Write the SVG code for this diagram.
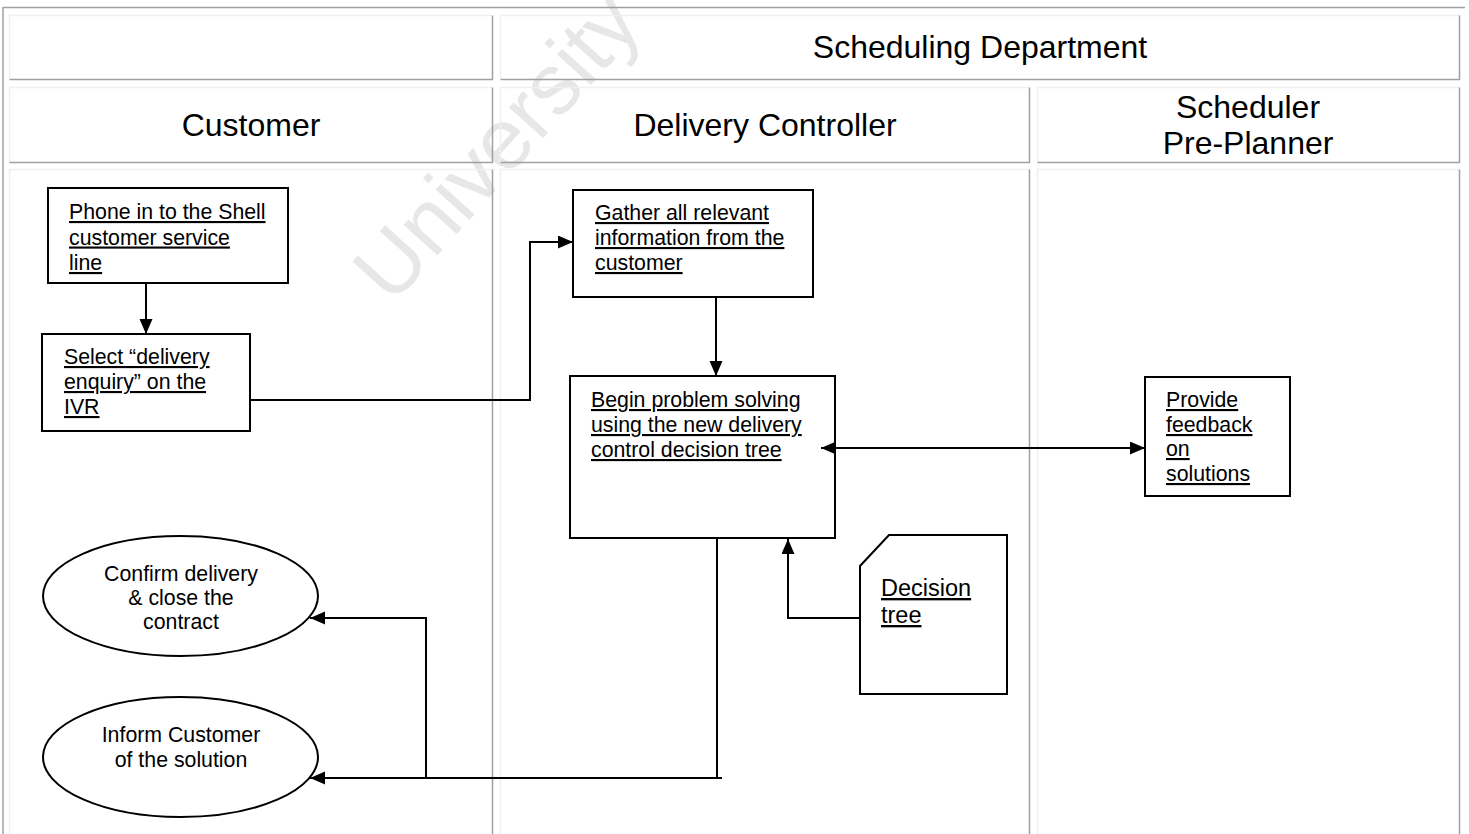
<svg xmlns="http://www.w3.org/2000/svg" width="1469" height="834" viewBox="0 0 1469 834">
  <style>
    .bg { fill: #ffffff; }
    .wm { font-family: "Liberation Sans", Arial, sans-serif; font-size: 86px; fill: #e7e7e7; }
    .outer { stroke: #a0a0a0; stroke-width: 1.5; fill: none; }
    .lite { stroke: #f0f0f0; stroke-width: 1.5; fill: none; }
    .dark { stroke: #a0a0a0; stroke-width: 1.5; fill: none; }
    .head { font-family: "Liberation Sans", Arial, sans-serif; font-size: 32px; fill: #000; text-anchor: middle; }
    .box { fill: #ffffff; stroke: #000; stroke-width: 2; }
    .lbl { font-family: "Liberation Sans", Arial, sans-serif; font-size: 21.3px; fill: #000; text-decoration: underline; }
    .lbl-c { font-family: "Liberation Sans", Arial, sans-serif; font-size: 21.3px; fill: #000; text-anchor: middle; }
    .lbl-big { font-family: "Liberation Sans", Arial, sans-serif; font-size: 23.5px; fill: #000; text-decoration: underline; }
    .wire { fill: none; stroke: #000; stroke-width: 2; }
  </style>
  <defs>
    <marker id="tip" markerUnits="userSpaceOnUse" markerWidth="16" markerHeight="14" refX="15" refY="6.5" orient="auto-start-reverse">
      <path d="M0,0 L15,6.5 L0,13 z" fill="#000"/>
    </marker>
  </defs>

  <rect class="bg" x="0" y="0" width="1469" height="834"/>

  <!-- faint background watermark -->
  <text class="wm" transform="translate(392,306) rotate(-48)">University of</text>

  <!-- swimlane table -->
  <g id="lanes">
    <line class="outer" x1="3" y1="7.5" x2="1465" y2="7.5"/>
    <line class="outer" x1="3" y1="7" x2="3" y2="834"/>

    <!-- row 1 -->
    <path class="lite" d="M9.5,79 V15.5 H492.5"/>
    <path class="dark" d="M9.5,79.5 H492.5 V15.5"/>
    <path class="lite" d="M500.5,79 V15.5 H1459.5"/>
    <path class="dark" d="M500.5,79.5 H1459.5 V15.5"/>

    <!-- row 2 -->
    <path class="lite" d="M9.5,162 V87.5 H492.5"/>
    <path class="dark" d="M9.5,162.5 H492.5 V87.5"/>
    <path class="lite" d="M500.5,162 V87.5 H1029"/>
    <path class="dark" d="M500.5,162.5 H1029.5 V87.5"/>
    <path class="lite" d="M1037.5,162 V87.5 H1459.5"/>
    <path class="dark" d="M1037.5,162.5 H1459.5 V87.5"/>

    <!-- row 3 (lanes body) -->
    <path class="lite" d="M9.5,834 V169.5 H492.5"/>
    <path class="dark" d="M492.5,169.5 V834"/>
    <path class="lite" d="M500.5,834 V169.5 H1029"/>
    <path class="dark" d="M1029.5,169.5 V834"/>
    <path class="lite" d="M1037.5,834 V169.5 H1459.5"/>
    <path class="dark" d="M1459.5,169.5 V834"/>

    <text class="head" x="980" y="58">Scheduling Department</text>
    <text class="head" x="251" y="136">Customer</text>
    <text class="head" x="765" y="136">Delivery Controller</text>
    <text class="head" x="1248" y="118">Scheduler</text>
    <text class="head" x="1248" y="154">Pre-Planner</text>
  </g>

  <g id="phone-in">
    <rect class="box" x="48" y="188" width="240" height="95"/>
    <text class="lbl" x="69" y="219">Phone in to the Shell</text>
    <text class="lbl" x="69" y="244.5">customer service</text>
    <text class="lbl" x="69" y="270">line</text>
  </g>

  <g id="select-ivr">
    <rect class="box" x="42" y="334" width="208" height="97"/>
    <text class="lbl" x="64" y="364">Select “delivery</text>
    <text class="lbl" x="64" y="389">enquiry” on the</text>
    <text class="lbl" x="64" y="414">IVR</text>
  </g>

  <g id="gather-info">
    <rect class="box" x="573" y="190" width="240" height="107"/>
    <text class="lbl" x="595" y="220">Gather all relevant</text>
    <text class="lbl" x="595" y="245">information from the</text>
    <text class="lbl" x="595" y="270">customer</text>
  </g>

  <g id="problem-solving">
    <rect class="box" x="570" y="376" width="265" height="162"/>
    <text class="lbl" x="591" y="407">Begin problem solving</text>
    <text class="lbl" x="591" y="432">using the new delivery</text>
    <text class="lbl" x="591" y="457">control decision tree</text>
  </g>

  <g id="feedback">
    <rect class="box" x="1145" y="377" width="145" height="119"/>
    <text class="lbl" x="1166" y="407">Provide</text>
    <text class="lbl" x="1166" y="432">feedback</text>
    <text class="lbl" x="1166" y="456">on</text>
    <text class="lbl" x="1166" y="481">solutions</text>
  </g>

  <g id="decision-tree">
    <path class="box" d="M889,535 H1007 V694 H860 V566 Z"/>
    <text class="lbl-big" x="881" y="596">Decision</text>
    <text class="lbl-big" x="881" y="623">tree</text>
  </g>

  <g id="confirm-delivery">
    <ellipse class="box" cx="180.5" cy="596" rx="137.5" ry="60"/>
    <text class="lbl-c" x="181" y="581">Confirm delivery</text>
    <text class="lbl-c" x="181" y="605">&amp; close the</text>
    <text class="lbl-c" x="181" y="629">contract</text>
  </g>

  <g id="inform-customer">
    <ellipse class="box" cx="180.5" cy="757" rx="137.5" ry="60"/>
    <text class="lbl-c" x="181" y="742">Inform Customer</text>
    <text class="lbl-c" x="181" y="767">of the solution</text>
  </g>

  <!-- connectors, drawn last so the two-way arrow shows inside its box -->
  <g id="connectors">
    <path class="wire" d="M146,283 V334" marker-end="url(#tip)"/>
    <path class="wire" d="M250,400 H530 V242 H573" marker-end="url(#tip)"/>
    <path class="wire" d="M716,297 V376" marker-end="url(#tip)"/>
    <path class="wire" d="M821,448 H1145" marker-start="url(#tip)" marker-end="url(#tip)"/>
    <path class="wire" d="M860,618 H788 V539" marker-end="url(#tip)"/>
    <path class="wire" d="M717,538 V778"/>
    <path class="wire" d="M722,778 H310" marker-end="url(#tip)"/>
    <path class="wire" d="M426,778 V618 H310" marker-end="url(#tip)"/>
  </g>
</svg>
